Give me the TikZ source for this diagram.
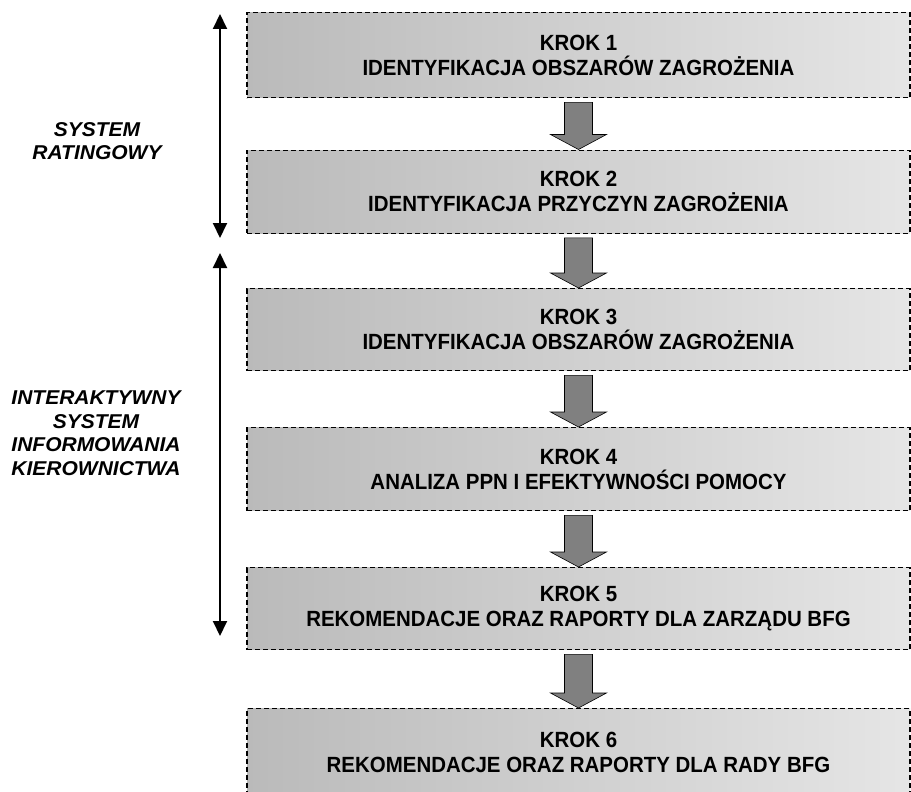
\documentclass[tikz,border=0pt]{standalone}
\usepackage{fontspec}
\setmainfont{Liberation Sans}
\newfontfamily\boxfont[FakeStretch=0.93]{Liberation Sans}
\newfontfamily\sidefont[FakeStretch=1.05]{Liberation Sans}
\usetikzlibrary{arrows.meta,calc}
\begin{document}
\begin{tikzpicture}[x=1pt,y=-1pt,
  stepbox/.style={draw=black, line width=1.4pt, dash pattern=on 5pt off 3pt,
    left color=black!27, right color=black!10, minimum width=663pt,
    anchor=north, inner sep=0pt, align=center,
    font=\boxfont\fontsize{22}{25}\selectfont\bfseries},
  sidelabel/.style={align=center, font=\sidefont\fontsize{20}{23.5}\selectfont\bfseries\itshape},
  vline/.style={line width=2pt, {Triangle[width=14pt,length=15pt]}-{Triangle[width=14pt,length=15pt]}},
  fat/.style={draw=black, line width=0.6pt, fill=black!50}
]
\useasboundingbox (0,0) rectangle (911,792);
\begin{scope}
\clip (0,0) rectangle (911,792);
\node[stepbox, minimum height=85pt] (b1) at (578.5,12) {KROK 1\\IDENTYFIKACJA OBSZARÓW ZAGROŻENIA};
\node[stepbox, minimum height=83pt] (b2) at (578.5,149.5) {KROK 2\\IDENTYFIKACJA PRZYCZYN ZAGROŻENIA};
\node[stepbox, minimum height=82pt] (b3) at (578.5,288) {KROK 3\\IDENTYFIKACJA OBSZARÓW ZAGROŻENIA};
\node[stepbox, minimum height=83pt] (b4) at (578.5,427) {KROK 4\\ANALIZA PPN I EFEKTYWNOŚCI POMOCY};
\node[stepbox, minimum height=82pt] (b5) at (578.5,567) {KROK 5\\REKOMENDACJE ORAZ RAPORTY DLA ZARZĄDU BFG};
\node[stepbox, minimum height=88pt] (b6) at (578.5,708) {KROK 6\\REKOMENDACJE ORAZ RAPORTY DLA RADY BFG};
\end{scope}
\foreach \a/\b in {b1/b2,b2/b3,b3/b4,b4/b5,b5/b6}{
  \draw[fat] ($(\a.south)+(-14,4)$) -- ($(\a.south)+(14,4)$) -- ($(\b.north)+(14,-15)$)
    -- ($(\b.north)+(28,-15)$) -- (\b.north) -- ($(\b.north)+(-28,-15)$)
    -- ($(\b.north)+(-14,-15)$) -- cycle;
}
\coordinate (a1t) at (220,14);
\coordinate (a1b) at (220,238);
\coordinate (a2t) at (220,253);
\coordinate (a2b) at (220,636);
\draw[vline] (a1t) -- (a1b);
\draw[vline] (a2t) -- (a2b);
\node[sidelabel] (l1) at (97,141) {SYSTEM\\RATINGOWY};
\node[sidelabel] (l2) at (96,433) {INTERAKTYWNY\\SYSTEM\\INFORMOWANIA\\KIEROWNICTWA};
\end{tikzpicture}
\end{document}
